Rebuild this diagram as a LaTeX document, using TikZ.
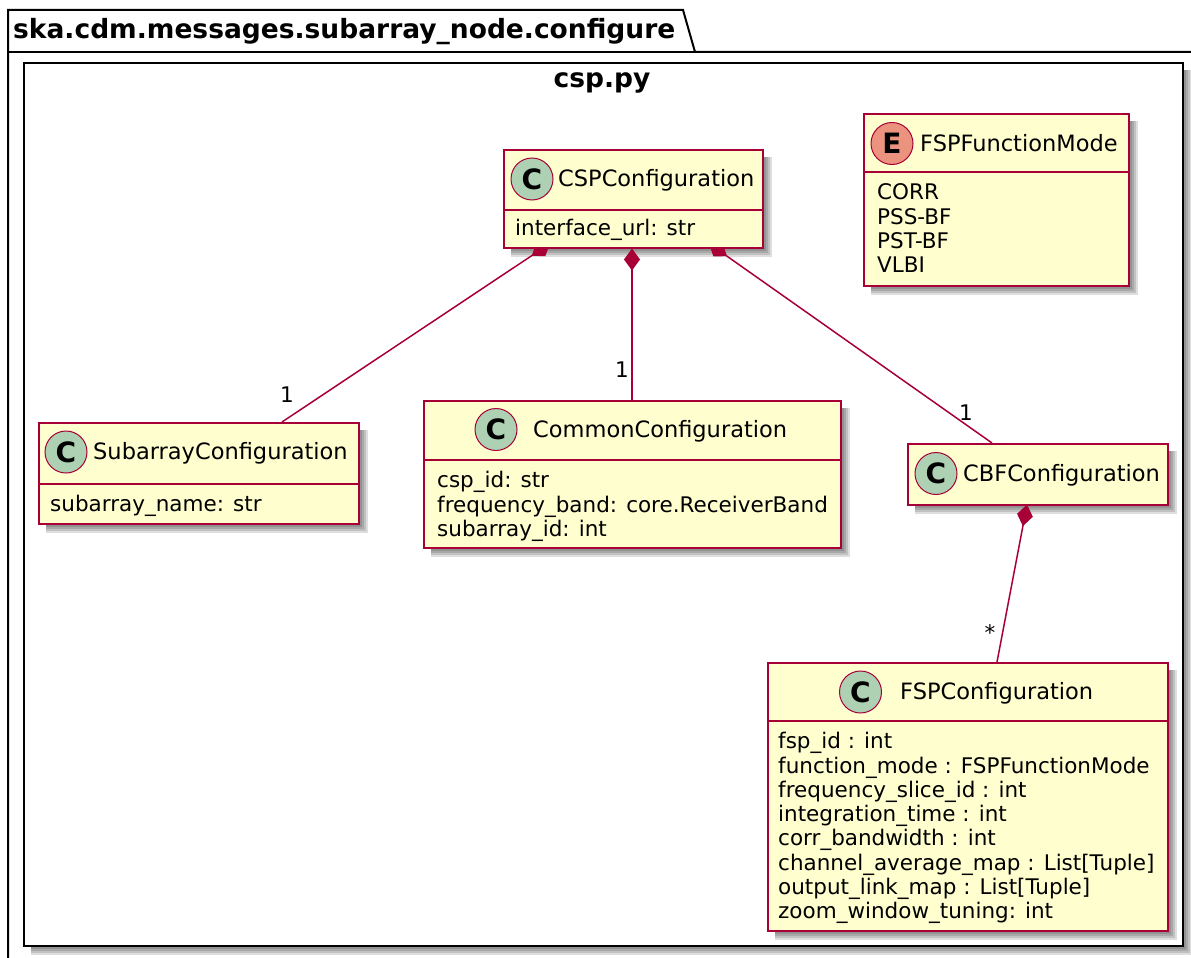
\documentclass[tikz,border=0pt]{standalone}
\usepackage{fontspec}
\setmainfont{DejaVu Sans}
\usetikzlibrary{arrows.meta,calc}
\definecolor{umlborder}{HTML}{A80036}
\definecolor{umlfill}{HTML}{FEFECE}
\definecolor{spotC}{HTML}{ADD1B2}
\definecolor{spotE}{HTML}{EB937F}
\pgfdeclarelayer{frameshade}
\pgfdeclarelayer{framelayer}
\pgfdeclarelayer{shadowlayer}
\pgfdeclarelayer{connlayer}
\pgfsetlayers{frameshade,framelayer,shadowlayer,connlayer,main}
\tikzset{
  classbox/.style={draw=umlborder, fill=umlfill, line width=1.5pt, inner sep=0pt, anchor=north west},
  framebox/.style={draw=black, fill=white, line width=2pt, inner sep=0pt, anchor=north west},
  pkgline/.style={draw=black, line width=2pt},
  spotmark/.style={circle, draw=umlborder, line width=1pt, minimum size=42pt, inner sep=0pt,
    font=\fontsize{28}{28}\selectfont\bfseries},
  cname/.style={anchor=base west, inner sep=0pt, font=\fontsize{22.5}{24}\selectfont},
  attr/.style={anchor=north west, inner sep=0pt, align=left, font=\fontsize{21.5}{24.3}\selectfont},
  sepline/.style={draw=umlborder, line width=1.5pt},
  assoc/.style={draw=umlborder, line width=1.5pt},
  comp/.style={assoc, {Diamond[length=22pt,width=16pt]}-},
  mult/.style={font=\fontsize{21.5}{24}\selectfont, inner sep=0pt},
  bigtitle/.style={inner sep=0pt, font=\fontsize{26.5}{30}\selectfont\bfseries},
}
\newcommand{\dropshade}[2][shadowlayer]{%
  \begin{pgfonlayer}{#1}
  \foreach \e in {2,4,6,8}{
    \fill[black,opacity=0.13] ($(#2.north west)+(8,8)$) rectangle ($(#2.south east)+(\e,\e)$);
  }
  \end{pgfonlayer}}
\begin{document}
\begin{tikzpicture}[x=1pt,y=-1pt]
\useasboundingbox (0,0) rectangle (1191,958);
% package frame
\begin{pgfonlayer}{framelayer}
\fill[white] (8,10) -- (683,10) -- (695,52) -- (8,52) -- cycle;
\draw[pkgline] (8,1000) -- (8,10) -- (683,10) -- (695,52) -- (1200,52);
\draw[pkgline] (8,52) -- (695,52);
\node[bigtitle, anchor=base west] (pkgtitle) at (13,39) {ska.cdm.messages.subarray\_node.configure};
% file frame
\node[framebox, minimum width=1159, minimum height=883] (cspfile) at (23,62) {};
\node[bigtitle, anchor=base] (filetitle) at (602,87) {csp.py};
\end{pgfonlayer}
\dropshade[frameshade]{cspfile}

% CSPConfiguration
\node[classbox, minimum width=259, minimum height=98] (csp) at (503,149) {};
\dropshade{csp}
\draw[sepline] ($(csp.north west)+(0,61)$) -- ($(csp.north east)+(0,61)$);
\node[spotmark, fill=spotC] (cspS) at ($(csp.north west)+(29,30)$) {C};
\node[cname] (cspN) at ($(csp.north west)+(55,37)$) {CSPConfiguration};
\node[attr] (cspA) at ($(csp.north west)+(12,69.5)$) {\strut interface\_url: str};

% FSPFunctionMode
\node[classbox, minimum width=265, minimum height=172] (enum) at (863,113) {};
\dropshade{enum}
\draw[sepline] ($(enum.north west)+(0,59)$) -- ($(enum.north east)+(0,59)$);
\node[spotmark, fill=spotE] (enumS) at ($(enum.north west)+(29,30.5)$) {E};
\node[cname] (enumN) at ($(enum.north west)+(57,38)$) {FSPFunctionMode};
\node[attr] (enumA) at ($(enum.north west)+(14,69.5)$) {\strut CORR\\PSS-BF\\PST-BF\\VLBI};

% SubarrayConfiguration
\node[classbox, minimum width=320, minimum height=101] (sub) at (38,422) {};
\dropshade{sub}
\draw[sepline] ($(sub.north west)+(0,62)$) -- ($(sub.north east)+(0,62)$);
\node[spotmark, fill=spotC] (subS) at ($(sub.north west)+(28,30)$) {C};
\node[cname] (subN) at ($(sub.north west)+(55,37.5)$) {SubarrayConfiguration};
\node[attr] (subA) at ($(sub.north west)+(12,72.5)$) {\strut subarray\_name: str};

% CommonConfiguration
\node[classbox, minimum width=417, minimum height=147] (com) at (423,400) {};
\dropshade{com}
\draw[sepline] ($(com.north west)+(0,60)$) -- ($(com.north east)+(0,60)$);
\node[spotmark, fill=spotC] (comS) at ($(com.north west)+(73,29.5)$) {C};
\node[cname] (comN) at ($(com.north west)+(110,37)$) {CommonConfiguration};
\node[attr] (comA) at ($(com.north west)+(14,70.5)$) {\strut csp\_id: str\\frequency\_band: core.ReceiverBand\\subarray\_id: int};

% CBFConfiguration
\node[classbox, minimum width=260, minimum height=61] (cbf) at (907,443) {};
\dropshade{cbf}
\node[spotmark, fill=spotC] (cbfS) at ($(cbf.north west)+(29,30.5)$) {C};
\node[cname] (cbfN) at ($(cbf.north west)+(56,38)$) {CBFConfiguration};

% FSPConfiguration
\node[classbox, minimum width=400, minimum height=268] (fsp) at (767,662) {};
\dropshade{fsp}
\draw[sepline] ($(fsp.north west)+(0,59)$) -- ($(fsp.north east)+(0,59)$);
\node[spotmark, fill=spotC] (fspS) at ($(fsp.north west)+(93.5,30)$) {C};
\node[cname] (fspN) at ($(fsp.north west)+(133,37.5)$) {FSPConfiguration};
\node[attr] (fspA) at ($(fsp.north west)+(11,69.5)$) {\strut fsp\_id : int\\function\_mode : FSPFunctionMode\\frequency\_slice\_id : int\\integration\_time : int\\corr\_bandwidth : int\\channel\_average\_map : List[Tuple]\\output\_link\_map : List[Tuple]\\zoom\_window\_tuning: int};

% connectors
\begin{pgfonlayer}{connlayer}
\draw[comp] ($(csp.south west)+(47,-5)$) -- ($(sub.north west)+(244,0)$);
\draw[comp] ($(csp.south west)+(129,0)$) -- ($(com.north west)+(209,0)$);
\draw[comp] ($(csp.south west)+(206,-5)$) -- ($(cbf.north west)+(85,0)$);
\draw[comp] ($(cbf.south west)+(120,-1)$) -- ($(fsp.north west)+(230,0)$);
\end{pgfonlayer}
\node[mult] (m1) at (287,395) {1};
\node[mult] (m2) at (622,370) {1};
\node[mult] (m3) at (966,413) {1};
\node[mult] (m4) at (990,633) {*};
\end{tikzpicture}
\end{document}
